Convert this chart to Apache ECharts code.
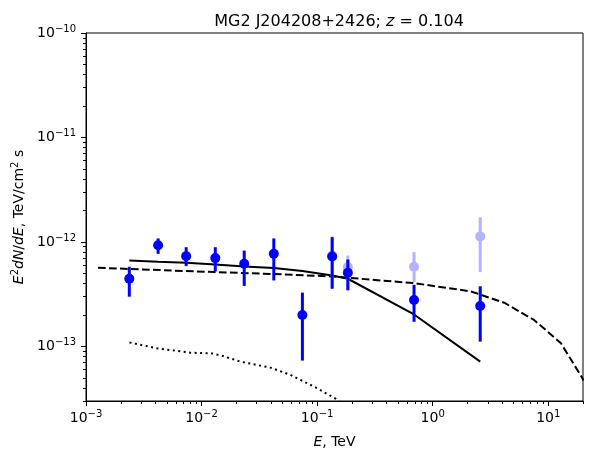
<!DOCTYPE html>
<html>
<head>
<meta charset="utf-8">
<script src="https://cdn.jsdelivr.net/npm/echarts@6/dist/echarts.min.js"></script>
<style>
  html, body { margin: 0; padding: 0; background: #fff; }
  #chart { width: 591px; height: 461px; }
</style>
</head>
<body>
<div id="chart"></div>
<script>
// measured points (TeV, TeV/cm2 s)
const energy = [2.37e-3, 4.21e-3, 7.36e-3, 1.315e-2, 2.34e-2, 4.22e-2, 7.46e-2, 0.135, 0.1845, 0.69, 2.58];
const flux   = [4.44e-13, 9.31e-13, 7.31e-13, 7.0e-13, 6.17e-13, 7.69e-13, 2.0e-13, 7.24e-13, 5.07e-13, 2.78e-13, 2.44e-13];
const fluxHi = [5.78e-13, 1.08e-12, 8.9e-13, 8.9e-13, 8.26e-13, 1.08e-12, 3.27e-13, 1.11e-12, 6.79e-13, 3.89e-13, 3.76e-13];
const fluxLo = [2.99e-13, 7.69e-13, 5.87e-13, 5.21e-13, 3.79e-13, 4.28e-13, 7.31e-14, 3.56e-13, 3.44e-13, 1.72e-13, 1.11e-13];

// faded points
const fadedE  = [0.135, 0.1845, 0.69, 2.58];
const fadedF  = [7.41e-13, 5.74e-13, 5.78e-13, 1.13e-12];
const fadedHi = [1.13e-12, 7.41e-13, 7.98e-13, 1.72e-12];
const fadedLo = [3.6e-13, 3.5e-13, 4.13e-13, 5.14e-13];

// model curves
const modelE = [2.37e-3, 4.21e-3, 7.36e-3, 1.315e-2, 2.34e-2, 4.22e-2, 7.46e-2, 0.135, 0.1845, 0.69, 2.58];
const modelF = [6.64e-13, 6.45e-13, 6.31e-13, 6.08e-13, 5.82e-13, 5.62e-13, 5.28e-13, 4.78e-13, 4.44e-13, 2.02e-13, 7.14e-14];

const dashE = [1.27e-3, 1.32e-2, 4.2e-2, 0.135, 0.69, 2.14, 4.16, 7.59, 12.9, 19.9, 20];
const dashF = [5.65e-13, 5.14e-13, 4.93e-13, 4.67e-13, 4.03e-13, 3.36e-13, 2.62e-13, 1.78e-13, 1.07e-13, 4.9e-14, 4.7e-14];

const dotE = [2.38e-3, 4.1e-3, 7.98e-3, 1.23e-2, 1.5e-2, 2.17e-2, 3.95e-2, 5.88e-2, 0.1, 0.145, 0.2];
const dotF = [1.09e-13, 9.6e-14, 8.7e-14, 8.57e-14, 8.15e-14, 7.14e-14, 6.26e-14, 5.33e-14, 3.98e-14, 3.15e-14, 2.3e-14];

// axes
const xMin = 1e-3, xMax = 20;
const yMin = 3e-14, yMax = 1e-10;
const xMajor = [-3, -2, -1, 0, 1];
const yMajor = [-13, -12, -11, -10];

const lg = Math.log10;

function minorTicks(lo, hi) {
  const out = [];
  for (let n = Math.floor(lg(lo)); n <= Math.ceil(lg(hi)); n++) {
    for (let k = 2; k <= 9; k++) {
      const v = k * Math.pow(10, n);
      if (v >= lo * 0.9999 && v <= hi * 1.0001) out.push(lg(v));
    }
  }
  return out;
}

const FONT = 'DejaVu Sans';
const supFmt = v => '{b|10}{s|' + String(Math.round(v)).replace('-', '\u2212') + '}';
const supRich = {
  b: { fontSize: 14, fontFamily: FONT, color: '#000', lineHeight: 18 },
  s: { fontSize: 10, fontFamily: FONT, color: '#000', verticalAlign: 'top', lineHeight: 10 }
};

const pts = energy.map((e, i) => [lg(e), lg(flux[i])]);
const bars = energy.map((e, i) => [lg(e), lg(fluxHi[i]), lg(fluxLo[i])]);
const fpts = fadedE.map((e, i) => [lg(e), lg(fadedF[i])]);
const fbars = fadedE.map((e, i) => [lg(e), lg(fadedHi[i]), lg(fadedLo[i])]);

function errBar(color) {
  return function (params, api) {
    const a = api.coord([api.value(0), api.value(1)]);
    const b = api.coord([api.value(0), api.value(2)]);
    return {
      type: 'line',
      shape: { x1: a[0], y1: a[1], x2: b[0], y2: b[1] },
      style: { stroke: color, lineWidth: 3 }
    };
  };
}

const chart = echarts.init(document.getElementById('chart'));
chart.setOption({
  animation: false,
  backgroundColor: '#fff',
  title: {
    text: '{n|MG2 J204208+2426; }{i|z}{n| = 0.104}',
    left: 334,
    top: 9,
    textAlign: 'center',
    textStyle: {
      fontWeight: 'normal',
      rich: {
        n: { fontSize: 16, fontFamily: FONT, color: '#000', fontWeight: 'normal' },
        i: { fontSize: 16, fontFamily: FONT, color: '#000', fontWeight: 'normal', fontStyle: 'italic' }
      }
    }
  },
  grid: {
    left: 86, right: 8, top: 33, bottom: 60,
    show: true, borderColor: '#000', borderWidth: 1
  },
  xAxis: [
    {
      type: 'value', min: lg(xMin), max: lg(xMax), position: 'bottom',
      axisLine: { onZero: false, lineStyle: { color: '#000', width: 1 } },
      axisTick: { customValues: xMajor, length: 5, lineStyle: { color: '#000' } },
      axisLabel: { customValues: xMajor, formatter: supFmt, rich: supRich, margin: 8 },
      splitLine: { show: false },
      name: '{i|E}{n|, TeV}',
      nameLocation: 'middle',
      nameGap: 34,
      nameTextStyle: {
        rich: {
          i: { fontSize: 14, fontFamily: FONT, color: '#000', fontStyle: 'italic' },
          n: { fontSize: 14, fontFamily: FONT, color: '#000' }
        }
      }
    },
    {
      type: 'value', min: lg(xMin), max: lg(xMax), position: 'bottom',
      axisLine: { show: false, onZero: false },
      axisTick: { customValues: minorTicks(xMin, xMax), length: 3, lineStyle: { color: '#000' } },
      axisLabel: { show: false },
      splitLine: { show: false }
    }
  ],
  yAxis: [
    {
      type: 'value', min: lg(yMin), max: lg(yMax), position: 'left',
      axisLine: { show: true, onZero: false, lineStyle: { color: '#000', width: 1 } },
      axisTick: { show: true, customValues: yMajor, length: 5, lineStyle: { color: '#000' } },
      axisLabel: { customValues: yMajor, formatter: supFmt, rich: supRich, margin: 10 },
      splitLine: { show: false },
      name: '{i|E}{s|2}{i|dN}{n|/}{i|dE}{n|, TeV/cm}{s|2}{n| s}',
      nameLocation: 'middle',
      nameGap: 58,
      nameTextStyle: {
        rich: {
          i: { fontSize: 14, fontFamily: FONT, color: '#000', fontStyle: 'italic', lineHeight: 18 },
          n: { fontSize: 14, fontFamily: FONT, color: '#000', lineHeight: 18 },
          s: { fontSize: 10, fontFamily: FONT, color: '#000', verticalAlign: 'top', lineHeight: 10 }
        }
      }
    },
    {
      type: 'value', min: lg(yMin), max: lg(yMax), position: 'left',
      axisLine: { show: false, onZero: false },
      axisTick: { show: true, customValues: minorTicks(yMin, yMax), length: 3, lineStyle: { color: '#000' } },
      axisLabel: { show: false },
      splitLine: { show: false }
    }
  ],
  series: [
    {
      type: 'line', data: dotE.map((e, i) => [lg(e), lg(dotF[i])]),
      showSymbol: false, clip: true, z: 2,
      lineStyle: { color: '#000', width: 2, type: [2, 3.5] }
    },
    {
      type: 'line', data: dashE.map((e, i) => [lg(e), lg(dashF[i])]),
      showSymbol: false, clip: true, z: 2,
      lineStyle: { color: '#000', width: 2, type: [7.7, 3.3] }
    },
    {
      type: 'line', data: modelE.map((e, i) => [lg(e), lg(modelF[i])]),
      showSymbol: false, clip: true, z: 2,
      lineStyle: { color: '#000', width: 2 }
    },
    {
      type: 'custom', data: fbars, renderItem: errBar('#b3b3ff'), z: 3,
      encode: { x: 0, y: [1, 2] }
    },
    {
      type: 'scatter', data: fpts, symbol: 'circle', symbolSize: 10, z: 3,
      itemStyle: { color: '#b3b3ff', opacity: 1 }
    },
    {
      type: 'custom', data: bars, renderItem: errBar('#0000ff'), z: 4,
      encode: { x: 0, y: [1, 2] }
    },
    {
      type: 'scatter', data: pts, symbol: 'circle', symbolSize: 10, z: 4,
      itemStyle: { color: '#0000ff', opacity: 1 }
    }
  ]
});
</script>
</body>
</html>
